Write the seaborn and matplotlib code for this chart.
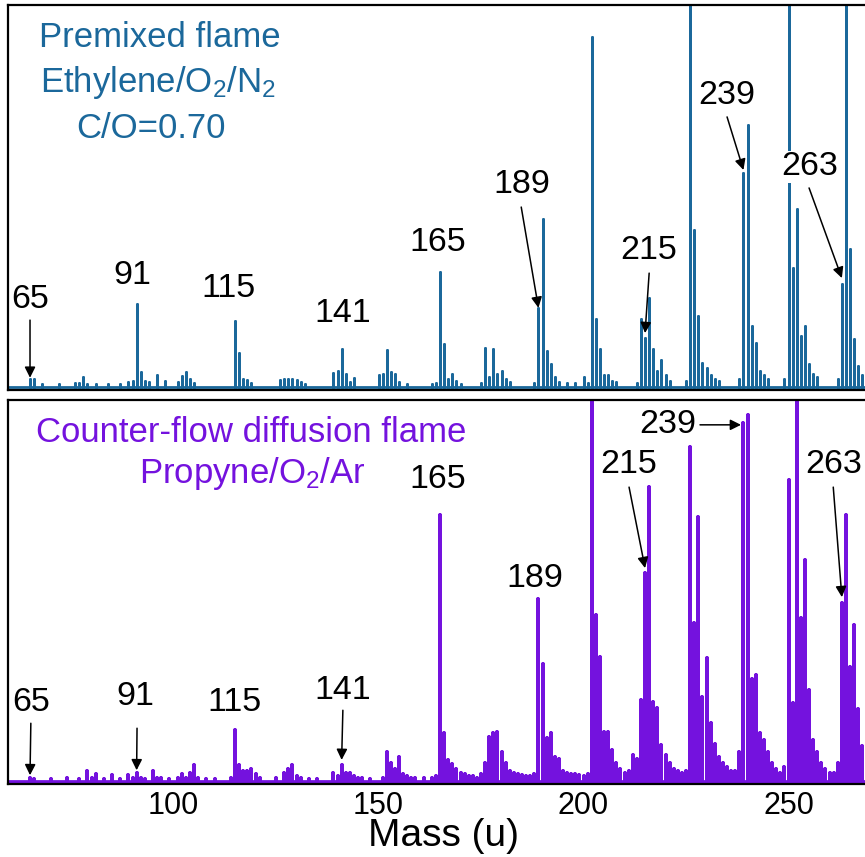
import matplotlib
matplotlib.use("Agg")
import matplotlib.pyplot as plt
import pandas as pd
import seaborn as sns

# ---- spectra: peak masses (u) and relative signal (% of panel height) ----
masses_premixed = [65, 66, 68, 72, 76, 77, 78, 79, 81, 84, 87, 89, 90, 91, 92, 93, 94, 96, 98,
                   101, 102, 103, 104, 105, 115, 116, 117, 118, 119, 126, 127, 128, 129, 130,
                   131, 132, 139, 140, 141, 142, 143, 144, 150, 151, 152, 153, 154, 155, 157,
                   163, 164, 165, 166, 167, 168, 169, 170, 175, 176, 177, 178, 179, 180, 181,
                   182, 188, 189, 190, 191, 192, 193, 194, 196, 198, 200, 201, 202, 203, 204,
                   205, 206, 207, 208, 213, 214, 215, 216, 217, 218, 219, 220, 221, 225, 226,
                   227, 228, 229, 230, 231, 232, 233, 238, 239, 240, 241, 242, 243, 244, 245,
                   249, 250, 251, 252, 253, 254, 255, 256, 257, 262, 263, 264, 265, 266, 267,
                   268]
signal_premixed = [2.0, 2.0, 0.8, 0.8, 1.0, 1.0, 2.6, 0.8, 0.8, 0.8, 0.8, 1.3, 1.5, 21.8, 3.8,
                   1.5, 1.2, 3.2, 1.5, 1.2, 2.8, 4.0, 2.0, 1.0, 17.3, 9.0, 2.2, 1.8, 1.0, 1.8,
                   2.0, 2.2, 2.0, 1.8, 1.2, 0.8, 3.7, 4.2, 10.0, 3.4, 1.2, 2.4, 3.0, 3.4, 9.7,
                   4.0, 3.4, 1.2, 0.8, 0.8, 1.0, 30.0, 11.2, 2.2, 3.4, 1.5, 0.8, 1.0, 10.3, 2.5,
                   10.0, 3.4, 4.2, 2.0, 1.2, 1.0, 20.8, 44.0, 9.5, 6.0, 2.5, 1.2, 1.0, 1.0, 2.5,
                   1.0, 91.6, 17.8, 10.0, 3.0, 3.0, 1.5, 1.2, 1.0, 17.8, 12.9, 23.4, 10.0, 4.2,
                   7.0, 3.0, 1.5, 1.5, 120.0, 41.0, 18.6, 6.3, 5.0, 3.0, 2.0, 1.5, 2.0, 55.9,
                   68.5, 16.0, 11.5, 4.2, 3.0, 2.0, 2.0, 120.0, 31.2, 46.7, 13.4, 16.0, 6.0, 3.5,
                   2.5, 2.0, 27.0, 120.0, 36.0, 12.5, 5.5, 3.0]

masses_counterflow = [65, 66, 70, 74, 77, 79, 80, 81, 83, 85, 87, 89, 90, 91, 92, 93, 95, 96,
                      97, 99, 101, 102, 103, 104, 105, 106, 108, 110, 114, 115, 116, 117, 118,
                      119, 120, 121, 125, 127, 128, 129, 130, 131, 133, 135, 139, 140, 141, 142,
                      143, 144, 145, 146, 148, 151, 152, 153, 154, 155, 156, 157, 158, 159, 161,
                      163, 164, 165, 166, 167, 168, 169, 170, 171, 172, 173, 174, 175, 176, 177,
                      178, 179, 180, 181, 182, 183, 184, 185, 186, 187, 188, 189, 190, 191, 192,
                      193, 194, 195, 196, 197, 198, 199, 200, 201, 202, 203, 204, 205, 206, 207,
                      208, 209, 210, 211, 212, 213, 214, 215, 216, 217, 218, 219, 220, 221, 222,
                      223, 224, 225, 226, 227, 228, 229, 230, 231, 232, 233, 234, 235, 236, 237,
                      238, 239, 240, 241, 242, 243, 244, 245, 246, 247, 248, 249, 250, 251, 252,
                      253, 254, 255, 256, 257, 258, 259, 260, 261, 262, 263, 264, 265, 266, 267,
                      268, 269]
signal_counterflow = [1.0, 0.8, 0.8, 1.0, 0.8, 3.0, 1.0, 2.0, 0.8, 1.8, 0.8, 1.8, 1.0, 2.5, 1.0,
                      0.8, 3.0, 1.0, 1.0, 0.8, 1.2, 2.0, 1.2, 2.5, 4.5, 1.0, 0.8, 0.8, 1.0, 13.6,
                      4.5, 3.0, 3.0, 3.5, 2.0, 1.0, 1.0, 2.5, 3.5, 4.5, 1.5, 1.2, 0.8, 0.8, 2.5,
                      1.5, 4.5, 2.5, 2.5, 1.5, 1.2, 1.0, 0.8, 1.2, 7.8, 5.0, 3.5, 6.5, 2.0, 1.5,
                      1.2, 1.0, 1.0, 1.2, 1.5, 70.0, 12.8, 5.7, 4.7, 3.5, 2.5, 2.0, 1.5, 1.5, 1.2,
                      2.0, 5.0, 11.8, 12.8, 13.0, 7.8, 5.0, 3.0, 2.5, 2.0, 1.8, 1.5, 1.5, 2.0,
                      48.0, 31.0, 11.5, 12.8, 6.5, 6.0, 3.0, 2.5, 2.0, 2.0, 1.8, 1.5, 2.0, 120.0,
                      43.7, 32.7, 13.0, 13.0, 8.4, 5.0, 3.5, 2.5, 3.0, 7.0, 6.0, 21.5, 54.7, 77.2,
                      21.0, 19.4, 9.7, 7.0, 5.0, 3.5, 3.0, 2.5, 3.0, 87.7, 41.6, 69.4, 22.3, 32.5,
                      15.4, 9.9, 6.5, 5.0, 4.0, 3.0, 3.0, 8.0, 94.0, 96.0, 27.0, 28.0, 12.8, 11.0,
                      8.0, 5.0, 3.5, 2.5, 4.0, 79.0, 20.7, 120.0, 43.0, 58.0, 24.0, 11.0, 8.0, 5.0,
                      3.5, 2.5, 2.5, 5.0, 47.0, 70.0, 30.0, 41.0, 19.0, 9.5, 5.0]

# ---- peak annotations: label mass, label position, arrow start / arrow tip ----
premixed_label_mass = [65, 91, 115, 141, 165, 189, 215, 239, 263]
premixed_label_x = [65.0, 89.9, 113.5, 141.3, 164.5, 185.0, 216.0, 235.0, 255.2]
premixed_label_y = [22.8, 29.3, 25.9, 19.1, 37.7, 52.9, 35.6, 76.2, 57.6]
premixed_arrow_mass = [65, 189, 215, 239, 263]
premixed_arrow_start = [(65.0, 17.5), (184.8, 47.1), (216.0, 29.8), (235.0, 70.7), (255.0, 52.1)]
premixed_arrow_tip_y = [2.4, 20.7, 14.1, 56.8, 28.5]

counterflow_label_mass = [65, 91, 115, 141, 165, 189, 215, 239, 263]
counterflow_label_x = [65.2, 90.6, 114.8, 141.3, 164.5, 188.2, 211.1, 220.6, 260.9]
counterflow_label_y = [20.7, 22.3, 20.9, 24.1, 79.1, 53.4, 83.0, 93.5, 83.0]
counterflow_arrow_mass = [65, 91, 141, 215, 239, 263]
counterflow_arrow_start = [(65.2, 15.4), (91.1, 14.1), (141.3, 18.8), (211.1, 77.2),
                           (228.4, 93.5), (260.9, 77.2)]
counterflow_arrow_tip_y = [1.8, 3.1, 5.8, 56.0, 93.5, 48.4]

tick_masses = [100, 150, 200, 250]
mass_range = (59.63, 272.3)

BLUE = "#1b689b"
PURPLE = "#7412de"

sns.set_theme(style="white")
plt.rcParams["font.family"] = ["Liberation Sans", "DejaVu Sans"]
plt.rcParams["mathtext.fontset"] = "custom"
plt.rcParams["mathtext.rm"] = "Liberation Sans"
plt.rcParams["mathtext.it"] = "Liberation Sans:italic"


def stick_frame(masses, signal):
    """Stick spectrum path: each peak rises from the baseline and falls back."""
    xs, ys = [mass_range[0]], [0.0]
    for m, s in zip(masses, signal):
        xs += [m, m, m]
        ys += [0.0, s, 0.0]
    xs.append(mass_range[1])
    ys.append(0.0)
    return pd.DataFrame({"mass": xs, "signal": ys})


W, H = 865, 857
fig = plt.figure(figsize=(W / 100, H / 100), dpi=100)


def px_axes(left, top, right, bottom):
    return fig.add_axes([left / W, 1 - bottom / H, (right - left) / W, (bottom - top) / H])


ax_top = px_axes(8, 5, 880, 390)
ax_bot = px_axes(8, 400, 880, 784)

sns.lineplot(data=stick_frame(masses_premixed, signal_premixed), x="mass", y="signal",
             sort=False, estimator=None, color=BLUE, lw=2.0, ax=ax_top, zorder=2)
sns.lineplot(data=stick_frame(masses_counterflow, signal_counterflow), x="mass", y="signal",
             sort=False, estimator=None, color=PURPLE, lw=2.7, ax=ax_bot, zorder=2)

ax_top.set_ylim(-0.8, 100)
ax_bot.set_ylim(-0.5, 100)

for ax in (ax_top, ax_bot):
    ax.set_xlim(*mass_range)
    ax.set_yticks([])
    ax.set_ylabel("")
    ax.set_xlabel("")
    for side in ("left", "top", "bottom", "right"):
        ax.spines[side].set_visible(True)
        ax.spines[side].set_color("black")
        ax.spines[side].set_linewidth(1.6)
    ax.tick_params(axis="x", length=0)

ax_top.set_xticks([])
ax_bot.set_xticks(tick_masses)
ax_bot.set_xticklabels([str(t) for t in tick_masses], fontsize=22)
ax_bot.tick_params(axis="x", pad=5, labelcolor="black")
ax_bot.set_xlabel("Mass (u)", fontsize=28, labelpad=-2, color="black")

label_kw = dict(ha="center", va="center", fontsize=24.5, color="black", zorder=5,
                bbox=dict(fc="white", ec="none", pad=0.5))
arrow_kw = dict(arrowstyle="-|>", color="black", lw=1.1, mutation_scale=16,
                shrinkA=0, shrinkB=0)


def annotate_panel(ax, label_mass, lx, ly, arrow_mass, arrow_start, tip_y):
    for m, x, y in zip(label_mass, lx, ly):
        ax.text(x, y, str(m), **label_kw)
    for m, start, ty in zip(arrow_mass, arrow_start, tip_y):
        # a level arrow stops just short of its peak line
        tip_x = m - 0.6 if start[1] == ty else m
        ax.annotate("", xy=(tip_x, ty), xytext=start, arrowprops=arrow_kw, zorder=6)


annotate_panel(ax_top, premixed_label_mass, premixed_label_x, premixed_label_y,
               premixed_arrow_mass, premixed_arrow_start, premixed_arrow_tip_y)
annotate_panel(ax_bot, counterflow_label_mass, counterflow_label_x, counterflow_label_y,
               counterflow_arrow_mass, counterflow_arrow_start, counterflow_arrow_tip_y)


# panel titles, placed by baseline in figure pixels
def fig_text(x, y_baseline, s, color):
    fig.text(x / W, 1 - y_baseline / H, s, ha="center", va="baseline",
             fontsize=25, color=color, zorder=7)


fig_text(160, 47, "Premixed flame", BLUE)
fig_text(158, 92, r"Ethylene/O$_2$/N$_2$", BLUE)
fig_text(151, 138, "C/O=0.70", BLUE)
fig_text(251, 442, "Counter-flow diffusion flame", PURPLE)
fig_text(252, 483, r"Propyne/O$_2$/Ar", PURPLE)

fig.savefig("out.png", dpi=100)
